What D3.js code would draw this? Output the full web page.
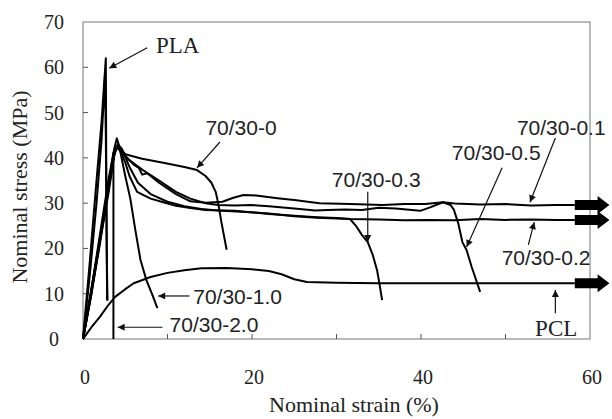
<!DOCTYPE html>
<meta charset="utf-8">
<style>
body { margin: 0; background: #fff; }
.curve { fill: none; stroke: #000; stroke-width: 2px; stroke-linejoin: round; }
.frame { fill: none; stroke: #777; stroke-width: 1px; }
.tick { stroke: #555; stroke-width: 1px; }
.serif { font-family: "Liberation Serif", serif; fill: #222; }
.sans { font-family: "Liberation Sans", Arial, sans-serif; fill: #222; }
.pointer { stroke: #111; stroke-width: 1.2px; }
</style>
<body>
<script src="https://cdn.jsdelivr.net/npm/d3@7"></script>
<script>
var width = 612,
    height = 419;

// strain (%), stress (MPa)
var pla1 = [[0,0],[0.8,17],[1.6,35],[2.2,48],[2.7,62],[2.75,40],[2.85,8.5]];
var pla2 = [[0,0],[0.8,14],[1.6,30],[2.2,44],[2.6,58],[2.7,45],[2.8,20],[2.9,8.5]];
var b0 = [[0,0],[1,10],[2,22],[3,34],[3.8,42],[4.2,42.5],[5,40.8],[7,39.8],[9.5,38.9],[12,38],[13.5,37.3],
          [14.5,36],[15.2,34.5],[15.7,32.5],[16,30],[16.4,25.6],[17,19.7]];
var b01 = [[0,0],[1,11],[2,23],[3,35],[3.7,42],[4.0,44.3],[4.3,42.5],[5,40.5],[6,38.5],[6.6,37.8],[7,36.3],[7.6,36.6],
           [9,34.5],[11,32],[12.7,30.4],[14.5,30.1],[16.5,30.3],[17.8,31.2],[19,31.8],[20.5,31.7],[23,31.1],[25,30.7],
           [28,30],[31.6,29.8],[35.5,29.6],[38,29.8],[40.5,29.8],[42.6,30.2],[44,29.9],[47,29.7],[50,29.8],[53,29.5],
           [56,29.6],[58.2,29.6]];
var b02 = [[0,0],[1,11],[2,22],[3,33],[3.6,40],[4.1,43],[4.6,42],[5.5,38],[6.5,34.5],[8,32],[10,30.3],[12,29.3],
           [14,28.7],[16,28.4],[19.8,28],[22,27.7],[25,27.1],[27.7,26.8],[31.6,26.5],[35,26.4],[38,26.2],[41,26.3],
           [44,26.2],[47,26.5],[50,26.3],[53,26.4],[56,26.3],[58.2,26.3]];
var b03 = [[0,0],[1,10],[2,21],[3,33],[3.8,42],[4.3,42],[5,39],[5.5,36],[6.4,32.5],[8,31],[9.5,30.2],[11,29.4],
           [12.7,28.9],[14.5,28.5],[16.5,28.4],[18,28.3],[19.8,28],[22,27.6],[25,27.2],[27.7,26.9],[30,26.7],
           [31.6,26.5],[32.3,25],[33,23],[33.7,21.4],[34.3,18.5],[34.8,15.2],[35.1,12],[35.4,8.6]];
var b05 = [[0,0],[1,10.5],[2,22],[3,34],[3.6,41],[4.1,42.5],[5,40.2],[7,37.4],[9,35],[11,32.5],[12.7,31],[14.5,30],
           [16,29.6],[18,29.5],[19.8,29.6],[22,29.3],[25,28.8],[27.5,28.4],[29,28.5],[31,28.6],[33,28.5],[35,29],
           [37,28.8],[39.9,28.3],[41,29],[42.6,30.2],[43.5,29.6],[43.9,28.5],[44.4,25.6],[44.9,21.4],[45.4,19.6],
           [46,15.9],[47,10.4]];
var b10 = [[0,0],[1,10.5],[2,21.5],[3,32],[3.7,40.5],[4.0,42.5],[4.4,41.5],[5,36],[5.6,31],[6.2,24],[6.8,17.5],
           [7.5,13],[8.2,9.8],[8.8,6.8]];
var b20 = [[0,0],[1,11],[2,22],[3,33],[3.5,39],[3.6,41],[3.6,0]];
var pcl = [[0,0],[0.5,1.3],[1,2.6],[2,4.9],[3,7.5],[3.8,9.3],[5,11],[6,12.3],[8,13.7],[10,14.6],[12,15.2],[14,15.6],
           [17,15.7],[20,15.4],[22,15],[23.5,14.3],[25,13.2],[26.5,12.6],[30,12.4],[35,12.3],[45,12.3],[58.2,12.3]];
var curves = [pla1, pla2, b0, b01, b02, b03, b05, b10, b20, pcl];

// labels: text, label position, pointer tail, pointer tip (all in data units)
var labelText = ["PLA", "70/30-0", "70/30-0.3", "70/30-0.5", "70/30-0.1", "70/30-0.2", "70/30-1.0", "70/30-2.0", "PCL"];
var labelAt = [[11.2,64.9],[18.7,46.8],[34.7,35.3],[48.9,41.1],[56.6,46.8],[54.8,17.9],[18.3,9.3],[15.5,3.3],[56,2.6]];
var pointerFrom = [[7.6,64.3],[16.2,43.5],[33.7,32.5],[49.6,37.8],[55.9,44.4],[52.7,20.8],[12.6,9.5],[9.4,2.6],[55.9,5.7]];
var pointerTo = [[3.1,59.8],[13.5,37.8],[33.7,21.4],[45.4,20.3],[52.9,30.2],[53.4,25.8],[8.9,9.5],[4.1,2.6],[55.9,10.8]];
var labelSerif = [true, false, false, false, false, false, false, false, true];

// curves that carry on past 60 %
var beyond = [29.6, 26.3, 12.3];

var xTicks = [0, 10, 20, 30, 40, 50, 60],
    xLabels = [0, 20, 40, 60],
    yTicks = [0, 10, 20, 30, 40, 50, 60, 70];

var x = d3.scaleLinear().domain([0, 60]).range([83, 590]);
var y = d3.scaleLinear().domain([0, 70]).range([339, 22]);

var svg = d3.select('body').append('svg')
    .attr('width', width)
    .attr('height', height);

svg.append('rect').attr('width', width).attr('height', height).attr('fill', '#fff');

svg.append('defs').append('marker')
    .attr('id', 'head')
    .attr('markerUnits', 'userSpaceOnUse')
    .attr('viewBox', '0 0 10 10')
    .attr('refX', 10).attr('refY', 5)
    .attr('markerWidth', 9).attr('markerHeight', 7)
    .attr('orient', 'auto')
  .append('path')
    .attr('d', 'M0,0L10,5L0,10z')
    .attr('fill', '#111');

// frame
svg.append('rect').attr('class', 'frame')
    .attr('x', x(0)).attr('y', y(70))
    .attr('width', x(60) - x(0)).attr('height', y(0) - y(70));

// inward ticks
svg.selectAll('.xt').data(xTicks.slice(1, -1)).enter().append('line')
    .attr('class', 'tick')
    .attr('x1', d => x(d)).attr('x2', d => x(d))
    .attr('y1', y(0)).attr('y2', y(0) - 5);
svg.selectAll('.yt').data(yTicks.slice(1, -1)).enter().append('line')
    .attr('class', 'tick')
    .attr('x1', x(0)).attr('x2', x(0) + 5)
    .attr('y1', d => y(d)).attr('y2', d => y(d));

svg.selectAll('.xl').data(xLabels).enter().append('text')
    .attr('class', 'serif')
    .attr('x', d => x(d) + 2).attr('y', 384)
    .attr('text-anchor', 'middle')
    .attr('font-size', 20)
    .text(d => d);
svg.selectAll('.yl').data(yTicks).enter().append('text')
    .attr('class', 'serif')
    .attr('x', 54).attr('y', d => y(d) + 7)
    .attr('text-anchor', 'middle')
    .attr('font-size', 20)
    .text(d => d);

svg.append('text').attr('class', 'serif')
    .attr('x', 354).attr('y', 412)
    .attr('text-anchor', 'middle')
    .attr('font-size', 22)
    .text('Nominal strain (%)');
svg.append('text').attr('class', 'serif')
    .attr('transform', 'translate(27,187) rotate(-90)')
    .attr('text-anchor', 'middle')
    .attr('font-size', 22)
    .text('Nominal stress (MPa)');

var line = d3.line().x(d => x(d[0])).y(d => y(d[1]));
svg.selectAll('.curve').data(curves).enter().append('path')
    .attr('class', 'curve')
    .attr('d', line);

// thick arrows at the right edge
svg.selectAll('.big').data(beyond).enter().append('path')
    .attr('fill', '#000')
    .attr('d', function (d) {
        var x0 = x(58.2), x1 = x(60.9), x2 = x(62.3), yc = y(d);
        return 'M' + x0 + ',' + (yc - 5) + 'L' + x1 + ',' + (yc - 5) + 'L' + x1 + ',' + (yc - 9) +
            'L' + x2 + ',' + yc + 'L' + x1 + ',' + (yc + 9) + 'L' + x1 + ',' + (yc + 5) +
            'L' + x0 + ',' + (yc + 5) + 'Z';
    });

svg.selectAll('.pointer').data(labelText).enter().append('line')
    .attr('class', 'pointer')
    .attr('x1', (d, i) => x(pointerFrom[i][0])).attr('y1', (d, i) => y(pointerFrom[i][1]))
    .attr('x2', (d, i) => x(pointerTo[i][0])).attr('y2', (d, i) => y(pointerTo[i][1]))
    .attr('marker-end', 'url(#head)');

svg.selectAll('.lab').data(labelText).enter().append('text')
    .attr('class', (d, i) => labelSerif[i] ? 'serif' : 'sans')
    .attr('x', (d, i) => x(labelAt[i][0])).attr('y', (d, i) => y(labelAt[i][1]))
    .attr('dy', '0.36em')
    .attr('text-anchor', 'middle')
    .attr('font-size', (d, i) => labelSerif[i] ? 23 : 21)
    .text(d => d);
</script>
</body>
</html>
